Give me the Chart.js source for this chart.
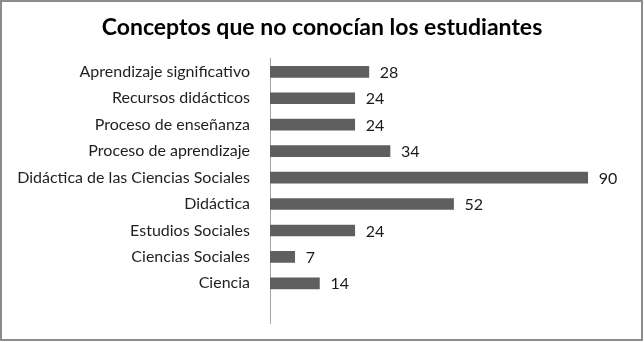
<!DOCTYPE html>
<html>
<head>
<meta charset="utf-8">
<script src="https://cdn.jsdelivr.net/npm/chart.js@4/dist/chart.umd.min.js"></script>
<style>
  html, body { margin: 0; padding: 0; background: #fff; }
  #wrap { width: 644px; height: 342px; }
</style>
</head>
<body>
<div id="wrap"><canvas id="conceptosChart" width="644" height="342"></canvas></div>
<script>
const chartTitle = "Conceptos que no conocían los estudiantes";

// categories top to bottom; the last row is empty in the sheet
const categories = [
  "Aprendizaje significativo",
  "Recursos didácticos",
  "Proceso de enseñanza",
  "Proceso de aprendizaje",
  "Didáctica de las Ciencias Sociales",
  "Didáctica",
  "Estudios Sociales",
  "Ciencias Sociales",
  "Ciencia",
  ""
];
const values = [28, 24, 24, 34, 90, 52, 24, 7, 14, null];

const xMin = 0;
const xMax = 100;

// outer frame + white background
const framePlugin = {
  id: "frame",
  beforeDraw(chart) {
    const ctx = chart.ctx;
    ctx.save();
    ctx.fillStyle = "#ffffff";
    ctx.fillRect(0, 0, chart.width, chart.height);
    ctx.strokeStyle = "#8c8c8c";
    ctx.lineWidth = 2;
    ctx.strokeRect(1, 1, chart.width - 3, chart.height - 3);
    ctx.restore();
  }
};

// value labels at the end of each bar
const valueLabels = {
  id: "valueLabels",
  afterDatasetsDraw(chart) {
    const ctx = chart.ctx;
    const meta = chart.getDatasetMeta(0);
    ctx.save();
    ctx.font = "16px Lato";
    ctx.fillStyle = "#1a1a1a";
    ctx.textAlign = "left";
    ctx.textBaseline = "middle";
    meta.data.forEach((bar, i) => {
      const v = chart.data.datasets[0].data[i];
      if (v === null || v === undefined) return;
      ctx.fillText(String(v), bar.x + 11, bar.y + 1);
    });
    ctx.restore();
  }
};

new Chart(document.getElementById("conceptosChart"), {
  type: "bar",
  data: {
    labels: categories,
    datasets: [{
      data: values,
      backgroundColor: "#5f5f5f",
      borderWidth: 0,
      barThickness: 11
    }]
  },
  options: {
    indexAxis: "y",
    responsive: false,
    animation: false,
    layout: { padding: { left: 2, right: 2, top: 0, bottom: 19 } },
    plugins: {
      legend: { display: false },
      tooltip: { enabled: false },
      title: {
        display: true,
        text: chartTitle,
        color: "#000",
        font: { family: "Lato", size: 23, weight: "bold" },
        padding: { top: 14, bottom: 17 }
      }
    },
    scales: {
      x: {
        display: false,
        min: xMin,
        max: xMax
      },
      y: {
        grid: { display: false, drawTicks: false },
        border: { display: true, color: "#a6a6a6", width: 1 },
        ticks: {
          color: "#1f1f1f",
          padding: 20,
          autoSkip: false,
          font: { family: "Lato", size: 16 }
        },
        afterFit(scale) {
          scale.width = 268;
          scale.paddingTop = 0;
          scale.paddingBottom = 0;
        }
      },
      // blank strip on the right so the plot ends short of the frame
      yRight: {
        type: "category",
        position: "right",
        grid: { display: false, drawTicks: false },
        border: { display: false },
        ticks: { display: false },
        afterFit(scale) {
          scale.width = 19;
          scale.paddingTop = 0;
          scale.paddingBottom = 0;
        }
      }
    }
  },
  plugins: [framePlugin, valueLabels]
});
</script>
</body>
</html>
